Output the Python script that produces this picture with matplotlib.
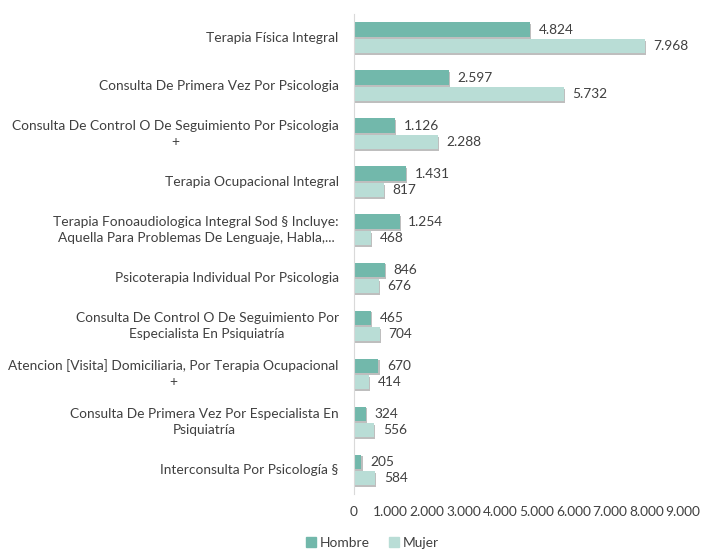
import matplotlib.pyplot as plt
import matplotlib.patheffects as pe
import matplotlib.patches as mpatches
from matplotlib.ticker import FuncFormatter
import numpy as np

# Datos
categorias = [
    "Terapia Física Integral",
    "Consulta De Primera Vez Por Psicologia",
    "Consulta De Control O De Seguimiento Por Psicologia\n+",
    "Terapia Ocupacional Integral",
    "Terapia Fonoaudiologica Integral Sod § Incluye:\nAquella Para Problemas De Lenguaje, Habla,...",
    "Psicoterapia Individual Por Psicologia",
    "Consulta De Control O De Seguimiento Por\nEspecialista En Psiquiatría",
    "Atencion [Visita] Domiciliaria, Por Terapia Ocupacional\n+",
    "Consulta De Primera Vez Por Especialista En\nPsiquiatría",
    "Interconsulta Por Psicología §",
]
hombre = [4824, 2597, 1126, 1431, 1254, 846, 465, 670, 324, 205]
mujer = [7968, 5732, 2288, 817, 468, 676, 704, 414, 556, 584]
xticks = [0, 1000, 2000, 3000, 4000, 5000, 6000, 7000, 8000, 9000]

col_h = "#72b8ab"
col_m = "#b9ddd6"
txt = "#404040"
fs = 9.9

plt.rcParams["font.family"] = ["Lato", "DejaVu Sans"]

fig = plt.figure(figsize=(7.07, 5.51), dpi=100)
ax = fig.add_axes([0.5007, 0.1035, 0.4653, 0.8715])

def miles(v, pos=None):
    return f"{int(v):,}".replace(",", ".")

y = np.arange(len(categorias))
h = 0.3
off = 0.17
sombra = [pe.SimplePatchShadow(offset=(0.8, -1.3), shadow_rgbFace="#8a8a8a", alpha=0.55), pe.Normal()]

bh = ax.barh(y - off, hombre, height=h, color=col_h)
bm = ax.barh(y + off, mujer, height=h, color=col_m)
for b in list(bh) + list(bm):
    b.set_path_effects(sombra)

for yi, v in zip(y - off, hombre):
    ax.text(v + 230, yi, miles(v), va="center", ha="left", fontsize=fs, color=txt)
for yi, v in zip(y + off, mujer):
    ax.text(v + 230, yi, miles(v), va="center", ha="left", fontsize=fs, color=txt)

# etiquetas de categorias (centradas entre lineas)
for yi, c in zip(y, categorias):
    ax.annotate(c, xy=(0, yi), xycoords=("axes fraction", "data"),
                xytext=(-11, 0), textcoords="offset points",
                ha="right", va="center", multialignment="center",
                fontsize=fs, color=txt, linespacing=1.4)

ax.set_ylim(len(categorias) - 0.5, -0.5)
ax.set_xlim(0, 9000)
ax.set_xticks(xticks)
ax.xaxis.set_major_formatter(FuncFormatter(miles))
ax.set_yticks([])
ax.tick_params(axis="both", length=0, labelsize=fs, labelcolor=txt)
ax.tick_params(axis="x", pad=9)

for s in ["top", "right", "bottom"]:
    ax.spines[s].set_visible(False)
ax.spines["left"].set_color("#d9d9d9")
ax.spines["left"].set_linewidth(0.8)

handles = [mpatches.Patch(color=col_h, label="Hombre"), mpatches.Patch(color=col_m, label="Mujer")]
fig.legend(handles=handles, loc="lower center", bbox_to_anchor=(0.527, -0.018), ncol=2,
           frameon=False, fontsize=fs, handlelength=0.7, handleheight=0.7,
           handletextpad=0.3, columnspacing=1.4, labelcolor=txt)

fig.savefig("out.png", dpi=100)
